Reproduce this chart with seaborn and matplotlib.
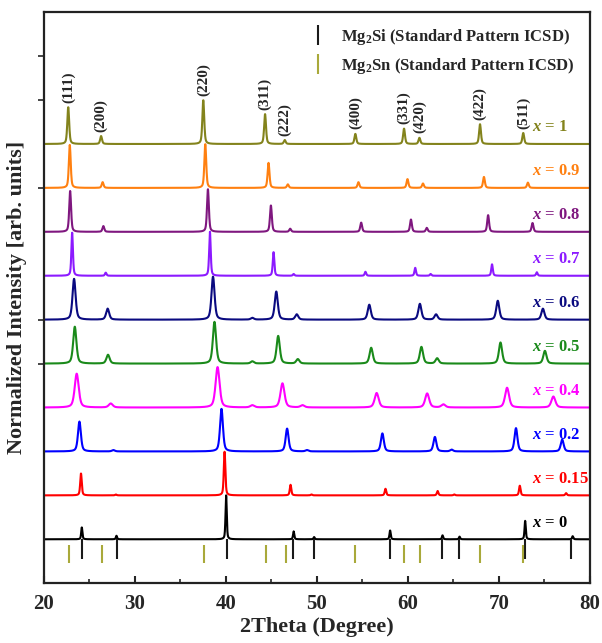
import numpy as np
import pandas as pd
import seaborn as sns
import matplotlib
matplotlib.use("Agg")
from matplotlib import pyplot as plt
from matplotlib.lines import Line2D

# compositions, bottom to top
compositions = ['0', '0.15', '0.2', '0.4', '0.5', '0.6', '0.7', '0.8', '0.9', '1']
colors = ['#000000', '#FF0000', '#0000FF', '#FF00FF', '#1A8A1A', '#0A0A80',
          '#8C1AFF', '#7F177F', '#FF8010', '#83831C']

hkl = ['(111)', '(200)', '(220)', '(311)', '(222)', '(400)', '(331)', '(420)', '(422)', '(511)', '']

# peak positions (2theta) per composition; last entry is a small impurity peak
pos_0 = [24.16, 27.97, 40.02, 47.44, 49.69, 58.04, 63.80, 65.67, 72.88, 78.10, 42.9]
pos_015 = [24.07, 27.90, 39.85, 47.10, 49.40, 57.53, 63.26, 65.10, 72.29, 77.38, 42.9]
pos_02 = [23.90, 27.63, 39.51, 46.72, 48.90, 57.19, 62.96, 64.80, 71.87, 76.95, 42.9]
pos_04 = [23.60, 27.34, 39.08, 46.21, 48.41, 56.56, 62.11, 63.89, 70.89, 75.98, 42.9]
pos_05 = [23.39, 27.04, 38.74, 45.74, 47.90, 55.96, 61.48, 63.21, 70.17, 75.05, 42.9]
pos_06 = [23.31, 27.00, 38.58, 45.53, 47.78, 55.75, 61.31, 63.09, 69.87, 74.83, 42.9]
pos_07 = [23.10, 26.79, 38.24, 45.23, 47.44, 55.33, 60.80, 62.49, 69.24, 74.16, 42.9]
pos_08 = [22.88, 26.53, 38.02, 44.94, 47.06, 54.86, 60.33, 62.07, 68.81, 73.69, 42.9]
pos_09 = [22.84, 26.45, 37.73, 44.68, 46.80, 54.56, 59.95, 61.65, 68.35, 73.18, 42.9]
pos_1 = [22.67, 26.28, 37.51, 44.30, 46.46, 54.22, 59.57, 61.26, 67.92, 72.67, 42.9]

# normalized peak heights
h_0 = [0.27, 0.08, 1.00, 0.18, 0.05, 0.20, 0.09, 0.06, 0.42, 0.07, 0.0]
h_015 = [0.50, 0.02, 1.00, 0.24, 0.02, 0.15, 0.10, 0.02, 0.22, 0.05, 0.0]
h_02 = [0.68, 0.03, 0.97, 0.52, 0.03, 0.41, 0.33, 0.04, 0.53, 0.27, 0.0]
h_04 = [0.77, 0.09, 0.92, 0.55, 0.05, 0.33, 0.32, 0.07, 0.45, 0.25, 0.05]
h_05 = [0.84, 0.20, 0.95, 0.63, 0.10, 0.36, 0.38, 0.12, 0.48, 0.29, 0.05]
h_06 = [0.93, 0.25, 0.98, 0.64, 0.12, 0.34, 0.36, 0.12, 0.43, 0.25, 0.04]
h_07 = [0.98, 0.07, 1.00, 0.54, 0.04, 0.09, 0.18, 0.04, 0.26, 0.08, 0.0]
h_08 = [0.93, 0.13, 0.97, 0.60, 0.07, 0.21, 0.28, 0.09, 0.38, 0.20, 0.0]
h_09 = [0.98, 0.13, 1.00, 0.57, 0.08, 0.13, 0.20, 0.10, 0.25, 0.12, 0.0]
h_1 = [0.84, 0.18, 1.00, 0.68, 0.09, 0.23, 0.35, 0.14, 0.45, 0.25, 0.0]

# peak widths (FWHM, degree)
widths = [0.16, 0.20, 0.38, 0.52, 0.42, 0.40, 0.20, 0.24, 0.24, 0.24]

positions = [pos_0, pos_015, pos_02, pos_04, pos_05, pos_06, pos_07, pos_08, pos_09, pos_1]
heights = [h_0, h_015, h_02, h_04, h_05, h_06, h_07, h_08, h_09, h_1]

# reference stick patterns (ICSD)
si_ref = [24.2, 28.0, 40.1, 47.4, 49.7, 58.0, 63.7, 65.6, 72.9, 77.9]
sn_ref = [22.8, 26.4, 37.6, 44.4, 46.6, 54.2, 59.6, 61.3, 67.9, 72.6]

two_theta = np.linspace(20, 80, 3001)

rows = []
for i, comp in enumerate(compositions):
    y = np.zeros_like(two_theta)
    g = widths[i] / 2
    for p, h in zip(positions[i], heights[i]):
        # pseudo-Voigt profile, mostly gaussian so the feet stay narrow
        lor = g**2 / ((two_theta - p)**2 + g**2)
        gau = np.exp(-np.log(2) * ((two_theta - p) / g)**2)
        y += h * (0.5 * lor + 0.5 * gau)
    rows.append(pd.DataFrame({'2theta': two_theta, 'I': y + i, 'x': comp}))
df = pd.concat(rows, ignore_index=True)

sns.set_style("ticks")
plt.rcParams['font.family'] = ['Liberation Serif', 'DejaVu Serif']
plt.rcParams['mathtext.fontset'] = 'custom'
plt.rcParams['mathtext.rm'] = 'Liberation Serif:bold'
plt.rcParams['mathtext.it'] = 'Liberation Serif:italic:bold'
plt.rcParams['mathtext.bf'] = 'Liberation Serif:bold'

fig = plt.figure(figsize=(6.02, 6.43), dpi=100)
ax = fig.add_axes([0.073, 0.093, 0.907, 0.888])

sns.lineplot(data=df, x='2theta', y='I', hue='x', palette=dict(zip(compositions, colors)),
             linewidth=1.5, legend=False, ax=ax, estimator=None, sort=False)

ax.vlines(si_ref, -0.45, 0, colors='#1a1a1a', linewidth=1.5)
ax.vlines(sn_ref, -0.53, -0.12, colors='#A9A93A', linewidth=1.5)

for i, comp in enumerate(compositions):
    ax.text(73.6, i + 0.38, r'$x$ = ' + comp, color=colors[i], fontsize=12,
            fontweight='bold', ha='left', va='center')

top = len(compositions) - 1
for p, h, lab in zip(pos_1, h_1, hkl):
    if lab:
        ax.text(p, top + h + 0.1, lab, rotation=90, ha='center', va='bottom',
                fontsize=11, fontweight='bold')

handles = [Line2D([], [], color='#1a1a1a', marker='|', linestyle='None', markersize=15, markeredgewidth=1.5),
           Line2D([], [], color='#A9A93A', marker='|', linestyle='None', markersize=15, markeredgewidth=1.5)]
ax.legend(handles, [r'Mg$_2$Si (Standard Pattern ICSD)', r'Mg$_2$Sn (Standard Pattern ICSD)'],
          loc='upper right', frameon=False, prop={'weight': 'bold', 'size': 12},
          handletextpad=0.6, handlelength=1.6, borderaxespad=0.5, labelspacing=0.5)

ax.set_xlim(20, 80)
ax.set_ylim(-1, 12)
ax.set_xticks([20, 30, 40, 50, 60, 70, 80])
ax.set_xticks(np.arange(25, 80, 10), minor=True)
ax.set_yticks([4, 5, 8, 10, 11])
ax.set_yticklabels([])
ax.tick_params(axis='x', direction='in', length=5, width=1.5, labelsize=15, pad=8)
ax.tick_params(axis='x', which='minor', direction='in', length=3, width=1.2)
ax.tick_params(axis='y', direction='out', length=4, width=1.2)
for lab in ax.get_xticklabels():
    lab.set_fontweight('bold')
for s in ax.spines.values():
    s.set_linewidth(1.6)
    s.set_color('#222222')

ax.set_xlabel('2Theta (Degree)', fontsize=16, fontweight='bold', labelpad=2)
ax.set_ylabel('Normalized Intensity [arb. units]', fontsize=16, fontweight='bold', labelpad=5)

fig.savefig('out.png', dpi=100)
